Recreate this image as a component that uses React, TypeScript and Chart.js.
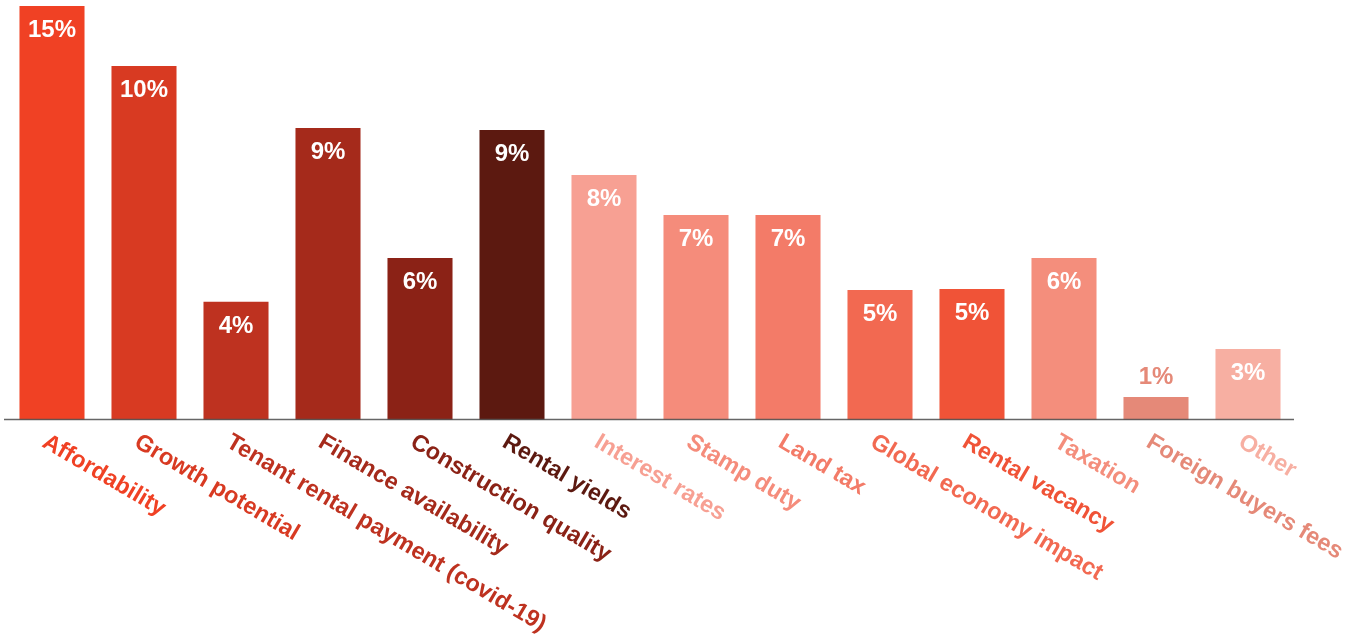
import React, { useEffect, useRef } from "react";
import { Chart, registerables } from "chart.js";

Chart.register(...registerables);

const categories = [
  "Affordability",
  "Growth potential",
  "Tenant rental payment (covid-19)",
  "Finance availability",
  "Construction quality",
  "Rental yields",
  "Interest rates",
  "Stamp duty",
  "Land tax",
  "Global economy impact",
  "Rental vacancy",
  "Taxation",
  "Foreign buyers fees",
  "Other",
];

const barValues = [15.0, 12.83, 4.28, 10.58, 5.87, 10.51, 8.88, 7.43, 7.43, 4.71, 4.75, 5.87, 0.83, 2.57];

const valueLabels = ["15%", "10%", "4%", "9%", "6%", "9%", "8%", "7%", "7%", "5%", "5%", "6%", "1%", "3%"];

const barColors = [
  "#F04124",
  "#D83A22",
  "#BE3220",
  "#A52A1B",
  "#8B2216",
  "#5C1910",
  "#F7A093",
  "#F58C7B",
  "#F37B68",
  "#F26951",
  "#F05337",
  "#F48E7C",
  "#E58978",
  "#F7AFA2",
];

const FONT = '"Liberation Sans", Arial, Helvetica, sans-serif';

const labelPlugin = {
  id: "customLabels",
  afterDatasetsDraw(chart: any) {
    const ctx = chart.ctx;
    const area = chart.chartArea;
    const xScale = chart.scales.x;
    const meta = chart.getDatasetMeta(0);

    // baseline axis
    ctx.save();
    ctx.strokeStyle = "rgba(85,85,85,0.9)";
    ctx.lineWidth = 1.5;
    ctx.beginPath();
    ctx.moveTo(area.left - 2, area.bottom - 0.5);
    ctx.lineTo(area.right, area.bottom - 0.5);
    ctx.stroke();
    ctx.restore();

    // value labels
    meta.data.forEach((bar: any, i: number) => {
      const { x, y, base } = bar.getProps(["x", "y", "base"], true);
      const h = base - y;
      ctx.save();
      ctx.font = `bold 24px ${FONT}`;
      ctx.textAlign = "center";
      ctx.textBaseline = "alphabetic";
      if (h > 45) {
        ctx.fillStyle = "#ffffff";
        ctx.fillText(valueLabels[i], x, y + 31);
      } else {
        ctx.fillStyle = barColors[i];
        ctx.fillText(valueLabels[i], x, y - 13);
      }
      ctx.restore();
    });

    // rotated category labels
    categories.forEach((c, i) => {
      const x = xScale.getPixelForValue(i);
      ctx.save();
      ctx.translate(x - 11, area.bottom + 26);
      ctx.rotate((30.5 * Math.PI) / 180);
      ctx.font = `bold 23.5px ${FONT}`;
      ctx.textAlign = "left";
      ctx.textBaseline = "alphabetic";
      ctx.fillStyle = barColors[i];
      ctx.fillText(c, 0, 0);
      ctx.restore();
    });
  },
};

export default function App() {
  const canvasRef = useRef<HTMLCanvasElement | null>(null);

  useEffect(() => {
    if (!canvasRef.current) return;
    const chart = new Chart(canvasRef.current, {
      type: "bar",
      data: {
        labels: categories,
        datasets: [
          {
            data: barValues,
            backgroundColor: barColors,
            borderWidth: 0,
            barPercentage: 0.707,
            categoryPercentage: 1,
          },
        ],
      },
      options: {
        animation: false,
        responsive: false,
        devicePixelRatio: 1,
        layout: { padding: { left: 6, right: 56, top: 6, bottom: 217 } },
        plugins: {
          legend: { display: false },
          tooltip: { enabled: false },
        },
        scales: {
          x: { display: false, offset: true },
          y: { display: false, min: 0, max: 15 },
        },
      },
      plugins: [labelPlugin],
    });
    return () => chart.destroy();
  }, []);

  return (
    <div style={{ position: "absolute", left: 0, top: 0, width: 1350, height: 637, background: "#fff" }}>
      <canvas ref={canvasRef} width={1350} height={637} style={{ width: 1350, height: 637, display: "block" }} />
    </div>
  );
}
